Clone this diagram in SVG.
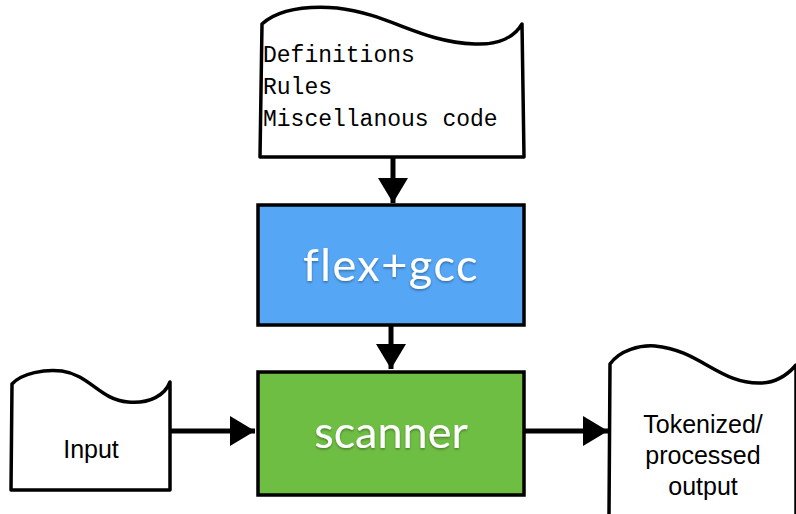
<svg xmlns="http://www.w3.org/2000/svg" width="796" height="514" viewBox="0 0 796 514">
<style>
.doc{fill:#fff;stroke:#000;stroke-width:3.5;stroke-linejoin:round}
.box{stroke:#000;stroke-width:3.5}
.big{font-family:Lato,"Open Sans",sans-serif;font-size:45px;fill:#fff;text-anchor:middle}
.lbl{font-family:"Liberation Sans",Arial,sans-serif;font-size:25px;fill:#000;text-anchor:middle}
.mono{font-family:"Liberation Mono","Courier New",monospace;font-size:23px;fill:#000}
.conn{stroke:#000;stroke-width:5;fill:none}
</style>
<defs>
<marker id="ah" markerWidth="6" markerHeight="6" refX="5" refY="3" orient="auto" markerUnits="strokeWidth">
<path d="M0,0 L5,3 L0,6 z" fill="#000"/>
</marker>
<filter id="sh" x="-10%" y="-10%" width="120%" height="130%">
<feDropShadow dx="0" dy="1.5" stdDeviation="1" flood-color="#000" flood-opacity="0.35"/>
</filter>
</defs>
<g id="connectors">
<line class="conn" x1="393" y1="158" x2="393" y2="203" marker-end="url(#ah)"/>
<line class="conn" x1="391" y1="326" x2="391" y2="369" marker-end="url(#ah)"/>
<line class="conn" x1="171" y1="431" x2="255" y2="431" marker-end="url(#ah)"/>
<line class="conn" x1="525" y1="431" x2="608" y2="431" marker-end="url(#ah)"/>
</g>
<g id="source">
<path class="doc" d="M260,157 L262,24 C280,8 310,6 337,8 C390,14 420,42 475,44 C500,45 515,36 522,24 L524,157 Z"/>
<text class="mono" x="263" y="62">Definitions</text>
<text class="mono" x="263" y="94">Rules</text>
<text class="mono" x="263" y="126">Miscellanous code</text>
</g>
<g id="flexgcc">
<rect class="box" x="258" y="205" width="266" height="120" fill="#55a6f5"/>
<text class="big" x="391" y="281" letter-spacing="1.5" filter="url(#sh)">flex+gcc</text>
</g>
<g id="scanner">
<rect class="box" x="258" y="372" width="266" height="123" fill="#6fbe44"/>
<text class="big" x="391" y="448" filter="url(#sh)">scanner</text>
</g>
<g id="input">
<path class="doc" d="M11,490 L12,384 C22,373 45,369 62,371 C90,375 100,400 128,402 C150,404 165,395 170,382 L170,490 Z"/>
<text class="lbl" x="91" y="458">Input</text>
</g>
<g id="output">
<path class="doc" d="M609,516 L610,364 C620,350 640,345 655,346 C700,350 720,385 762,383 C780,382 790,372 796,365 L796,516"/>
<text class="lbl" x="703" y="433">Tokenized/</text>
<text class="lbl" x="703" y="464">processed</text>
<text class="lbl" x="703" y="495">output</text>
</g>
</svg>
